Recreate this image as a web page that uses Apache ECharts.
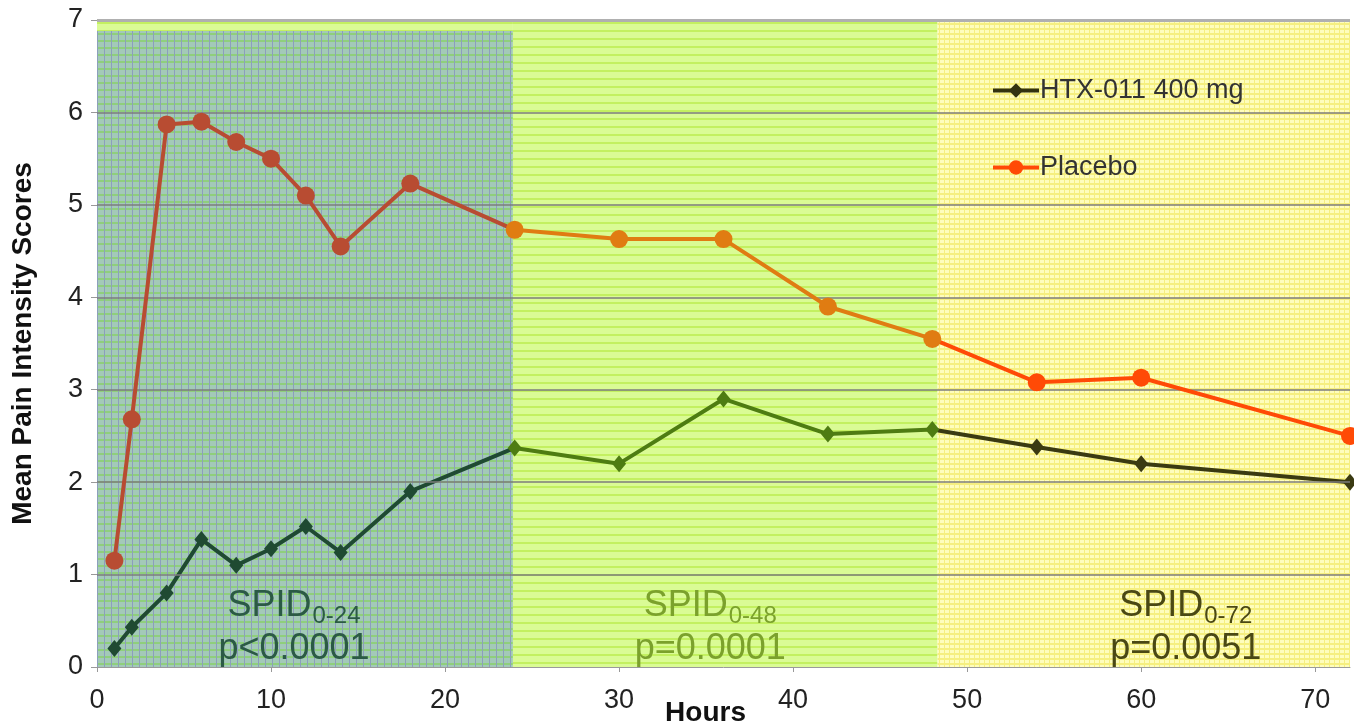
<!DOCTYPE html>
<html>
<head>
<meta charset="utf-8">
<script src="https://cdn.jsdelivr.net/npm/echarts@6/dist/echarts.min.js"></script>
<style>html,body{margin:0;padding:0;background:#fff}#c{width:1354px;height:728px}</style>
</head>
<body>
<div id="c"></div>
<script>
// ---- data ----
const hours = [1, 2, 4, 6, 8, 10, 12, 14, 18, 24, 30, 36, 42, 48, 54, 60, 72];
const htx011 = [0.2, 0.43, 0.8, 1.38, 1.1, 1.28, 1.52, 1.24, 1.9, 2.37, 2.2, 2.9, 2.52, 2.57, 2.38, 2.2, 2.0];
const placebo = [1.15, 2.68, 5.87, 5.9, 5.68, 5.5, 5.1, 4.55, 5.23, 4.73, 4.63, 4.63, 3.9, 3.55, 3.08, 3.13, 2.5];
const seriesNames = ['HTX-011 400 mg', 'Placebo'];
const yTicks = [0, 1, 2, 3, 4, 5, 6, 7];
const xTicks = [0, 10, 20, 30, 40, 50, 60, 70];
const periodStarts = [0, 23.9, 48.3];
const periodEnds = [23.9, 48.3, 72];
const periodLabels = ['0-24', '0-48', '0-72'];
const pValues = ['p<0.0001', 'p=0.0001', 'p=0.0051'];

// ---- texture tiles ----
function tile(w, h, bg, hLine, vLine) {
  const c = document.createElement('canvas');
  c.width = w; c.height = h;
  const g = c.getContext('2d');
  g.fillStyle = bg; g.fillRect(0, 0, w, h);
  if (hLine) { g.fillStyle = hLine; g.fillRect(0, h - 2, w, 2); }
  if (vLine) { g.fillStyle = vLine; g.fillRect(w - 1, 0, 1, h); }
  return c;
}
const pat1 = { image: tile(7, 7, '#a3c9b8', '#8fcf7c', '#8c9fbc'), repeat: 'repeat' };
const pat2 = { image: tile(8, 8, '#dafb95', '#c3f060', null), repeat: 'repeat' };
const pat3 = { image: tile(5, 5, '#fefdbc', '#f5ef80', '#f5ef80'), repeat: 'repeat' };
const pats = [pat1, pat2, pat3];
const textColors = ['#2b5a45', '#7ba12c', '#4a4814'];
const offsets = [[-11, 0], [-15, 0], [42, 0]];

const FONT = '"Liberation Sans", Arial, Helvetica, sans-serif';

const areaData = periodStarts.map((s, i) => [
  {
    xAxis: s, yAxis: 0,
    itemStyle: { color: pats[i] },
    label: {
      show: true, position: 'insideBottom', distance: -4, offset: offsets[i],
      formatter: '{m|SPID}{s|' + periodLabels[i] + '}\n{m|' + pValues[i] + '}',
      rich: {
        m: { fontSize: 36, color: textColors[i], fontFamily: FONT, lineHeight: 43 },
        s: { fontSize: 24, color: textColors[i], fontFamily: FONT, lineHeight: 22, verticalAlign: 'top', padding: [19, 0, 0, 1] }
      }
    }
  },
  { xAxis: periodEnds[i], yAxis: i === 0 ? 6.88 : 7 }
]);
// lime strip on top of first period
areaData.push([
  { xAxis: periodStarts[0], yAxis: 6.88, itemStyle: { color: pat2 } },
  { xAxis: periodEnds[0], yAxis: 7 }
]);

const placeboPoints = hours.map((h, i) => [h, placebo[i]]);
const htxPoints = hours.map((h, i) => [h, htx011[i]]);

const chart = echarts.init(document.getElementById('c'), null, { renderer: 'canvas' });
chart.setOption({
  animation: false,
  textStyle: { fontFamily: FONT },
  grid: { left: 97, right: 4, top: 20, bottom: 61, containLabel: false, outerBoundsMode: 'none' },
  legend: {
    orient: 'vertical', left: 986, top: 72, itemGap: 50,
    itemWidth: 46, itemHeight: 18,
    lineStyle: { width: 4 },
    textStyle: { fontSize: 27, color: '#333', fontFamily: FONT, padding: [0, 0, 0, -4] },
    data: seriesNames
  },
  xAxis: {
    type: 'value', min: 0, max: 72, interval: 10,
    name: 'Hours', nameLocation: 'middle', nameGap: 32, nameMoveOverlap: false,
    nameTextStyle: { fontSize: 28, fontWeight: 'bold', color: '#111', fontFamily: FONT, padding: [0, 36, 0, 0] },
    axisLine: { show: true, lineStyle: { color: '#9a9a9a', width: 1 } },
    axisTick: { show: true, length: 5, lineStyle: { color: '#999' } },
    axisLabel: { fontSize: 27, color: '#222', margin: 20, showMaxLabel: false, fontFamily: FONT },
    splitLine: { show: false }
  },
  yAxis: {
    type: 'value', min: 0, max: 7, interval: 1,
    name: 'Mean Pain Intensity Scores', nameLocation: 'middle', nameGap: 60, nameMoveOverlap: false,
    nameTextStyle: { fontSize: 28, fontWeight: 'bold', color: '#111', fontFamily: FONT },
    axisLine: { show: true, lineStyle: { color: '#9a9a9a', width: 1 } },
    axisTick: { show: true, length: 6, lineStyle: { color: '#999' } },
    axisLabel: { fontSize: 27, color: '#222', margin: 14, fontFamily: FONT },
    splitLine: { show: false }
  },
  visualMap: [
    {
      type: 'piecewise', show: false, dimension: 0, seriesIndex: 2,
      pieces: [
        { min: 0, max: 23.9, color: '#1f4a32' },
        { gt: 23.9, max: 48.3, color: '#4e7c12' },
        { gt: 48.3, max: 72, color: '#3a3a12' }
      ]
    },
    {
      type: 'piecewise', show: false, dimension: 0, seriesIndex: 3,
      pieces: [
        { min: 0, max: 23.9, color: '#b84c32' },
        { gt: 23.9, max: 48.3, color: '#e07c12' },
        { gt: 48.3, max: 72, color: '#ff4a06' }
      ]
    }
  ],
  series: [
    {
      name: 'regions', type: 'line', data: [], z: 1, silent: true,
      markArea: { silent: true, data: areaData }
    },
    {
      name: 'gridlines', type: 'line', data: [], z: 2, silent: true,
      markLine: {
        silent: true, symbol: 'none', label: { show: false },
        lineStyle: { type: 'solid', color: '#7d7d7d', width: 1.5 },
        data: yTicks.filter(v => v > 0 && v < 7).map(v => ({ yAxis: v }))
          .concat([{ yAxis: 7, lineStyle: { color: '#b0b0b0', width: 3 } }])
      }
    },
    {
      name: seriesNames[0], type: 'line', z: 4, data: htxPoints,
      color: '#333310',
      symbol: 'diamond', symbolSize: [14, 17], showAllSymbol: true,
      lineStyle: { width: 4 },
      itemStyle: { color: '#333310' }
    },
    {
      name: seriesNames[1], type: 'line', z: 5, data: placeboPoints,
      color: '#ff4a06',
      symbol: 'circle', symbolSize: 18, showAllSymbol: true,
      lineStyle: { width: 4 },
      itemStyle: { color: '#ff4a06' }
    }
  ]
});
</script>
</body>
</html>
